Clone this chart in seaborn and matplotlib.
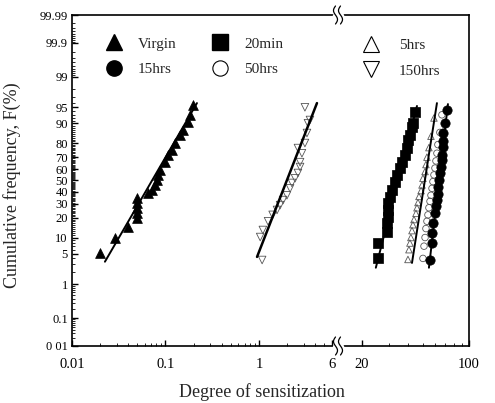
import math
import numpy as np
import matplotlib
matplotlib.use("Agg")
import matplotlib.pyplot as plt
import seaborn as sns
from matplotlib.lines import Line2D
from matplotlib.ticker import FixedLocator, NullFormatter

# ---------------- data ----------------
virgin_x = [0.0199, 0.0288, 0.0397, 0.0496, 0.0496, 0.0496, 0.0496, 0.0496, 0.0650,
            0.0717, 0.0772, 0.0811, 0.0832, 0.0873, 0.0988, 0.106, 0.117, 0.126,
            0.143, 0.154, 0.174, 0.183, 0.197]
virgin_F = [5.2, 9.8, 14.8, 20.0, 23.3, 26.8, 30.6, 34.7, 38.9, 41.6, 46.0, 50.4,
            54.9, 59.3, 66.1, 71.7, 75.3, 80.0, 84.7, 87.2, 90.6, 92.9, 95.5]

hrs150_x = [1.08, 1.03, 1.10, 1.25, 1.40, 1.56, 1.68, 1.81, 1.99, 2.15, 2.25, 2.43,
            2.61, 2.75, 2.75, 2.88, 2.61, 3.10, 3.26, 3.34, 3.51, 3.10]
hrs150_F = [3.7, 10.2, 13.3, 18.0, 22.0, 25.4, 29.0, 33.0, 37.0, 43.0, 47.8, 52.0,
            56.7, 61.9, 66.0, 73.0, 76.7, 80.0, 85.7, 90.1, 91.3, 95.0]

min20_x = [25.5, 25.5, 29.2, 29.2, 29.6, 29.6, 29.6, 30.5, 31.5, 32.9, 33.9, 35.5,
           36.6, 38.3, 39.4, 40.0, 41.2, 42.5, 43.2, 44.5]
min20_F = [4.1, 8.0, 12.4, 17.0, 20.6, 25.4, 30.6, 35.5, 41.6, 48.7, 54.9, 61.1,
           66.1, 71.7, 76.7, 81.9, 84.7, 88.5, 90.2, 93.8]

hrs5_x = [40.0, 40.6, 41.2, 41.8, 42.5, 43.1, 43.8, 45.1, 45.8, 46.5, 47.2, 48.7,
          49.4, 50.1, 51.7, 52.4, 53.2, 54.8, 56.5, 59.1]
hrs5_F = [3.8, 6, 8, 10, 13, 16, 19, 23, 27, 31, 36, 41, 46, 52, 58, 64, 70, 77, 84, 92]

hrs50_x = [50.1, 50.9, 51.7, 52.4, 53.2, 54.0, 54.8, 55.7, 56.5, 57.4, 58.2, 59.1,
           60.0, 60.9, 61.8, 62.7, 64.6, 66.6]
hrs50_F = [4, 7, 10, 14, 18, 22, 27, 32, 37, 43, 49, 55, 61, 67, 73, 79, 86, 93]

hrs15_x = [55.7, 57.4, 57.4, 58.2, 60.0, 60.9, 61.8, 62.7, 62.7, 63.7, 64.6, 65.6,
           66.6, 66.6, 67.6, 67.6, 67.6, 69.7, 71.8]
hrs15_F = [3.7, 8.0, 11.9, 17.0, 23.3, 28.0, 33.0, 38.0, 44.2, 50.0, 56.7, 62.0,
           67.8, 72.0, 77.4, 81.0, 85.7, 90.2, 94.3]

# fitted lines (end points)
fit_virgin_x, fit_virgin_F = [0.0225, 0.217], [3.4, 95.9]
fit_150_x, fit_150_F = [0.953, 4.17], [4.3, 95.9]
fit_20min_x, fit_20min_F = [24.7, 45.8], [2.5, 95.3]
fit_5_x, fit_5_F = [42.5, 61.8], [3.2, 95.9]
fit_15_x, fit_15_F = [54.8, 72.9], [2.5, 95.7]

y_ticks = [0.01, 0.1, 1, 5, 10, 20, 30, 40, 50, 60, 70, 80, 90, 95, 99, 99.9, 99.99]
y_labels = ["0 01", "0.1", "1", "5", "10", "20", "30", "40", "50", "60", "70", "80",
            "90", "95", "99", "99.9", "99.99"]
left_xticks, left_xlabels = [0.01, 0.1, 1, 6], ["0.01", "0.1", "1", "6"]
right_xticks, right_xlabels = [20, 100], ["20", "100"]

# ---------------- normal probability scale ----------------
_a = [-3.969683028665376e+01, 2.209460984245205e+02, -2.759285104469687e+02,
      1.383577518672690e+02, -3.066479806614716e+01, 2.506628277459239e+00]
_b = [-5.447609879822406e+01, 1.615858368580409e+02, -1.556989798598866e+02,
      6.680131188771972e+01, -1.328068155288572e+01]
_c = [-7.784894002430293e-03, -3.223964580411365e-01, -2.400758277161838e+00,
      -2.549671010229297e+00, 4.374664141464968e+00, 2.938163982698783e+00]
_d = [7.784695709041462e-03, 3.224671290700398e-01, 2.445134137142996e+00,
      3.754408661907416e+00]


def _ppf(p):
    p = np.clip(np.asarray(p, dtype=float), 1e-12, 1 - 1e-12)
    out = np.empty_like(p)
    plow, phigh = 0.02425, 1 - 0.02425
    lo = p < plow
    hi = p > phigh
    mid = ~(lo | hi)
    q = np.sqrt(-2 * np.log(p[lo]))
    out[lo] = (((((_c[0]*q+_c[1])*q+_c[2])*q+_c[3])*q+_c[4])*q+_c[5]) / \
              ((((_d[0]*q+_d[1])*q+_d[2])*q+_d[3])*q+1)
    q = np.sqrt(-2 * np.log(1 - p[hi]))
    out[hi] = -(((((_c[0]*q+_c[1])*q+_c[2])*q+_c[3])*q+_c[4])*q+_c[5]) / \
               ((((_d[0]*q+_d[1])*q+_d[2])*q+_d[3])*q+1)
    q = p[mid] - 0.5
    r = q * q
    out[mid] = (((((_a[0]*r+_a[1])*r+_a[2])*r+_a[3])*r+_a[4])*r+_a[5])*q / \
               (((((_b[0]*r+_b[1])*r+_b[2])*r+_b[3])*r+_b[4])*r+1)
    return out


_erfc = np.vectorize(math.erfc)


def fwd(F):
    return _ppf(np.asarray(F, dtype=float) / 100.0)


def inv(z):
    z = np.asarray(z, dtype=float)
    return 50.0 * _erfc(-z / math.sqrt(2))


# ---------------- figure ----------------
sns.set_theme(style="ticks")
plt.rcParams["font.family"] = ["Liberation Serif", "DejaVu Serif"]
plt.rcParams["axes.linewidth"] = 1.2

W, H = 495, 403
fig = plt.figure(figsize=(W / 100, H / 100), dpi=100)
x0, xb, x1 = 72, 338, 469
ytop, ybot = 15, 346
ax1 = fig.add_axes([x0 / W, 1 - ybot / H, (xb - x0) / W, (ybot - ytop) / H])
ax2 = fig.add_axes([xb / W, 1 - ybot / H, (x1 - xb) / W, (ybot - ytop) / H])

for ax in (ax1, ax2):
    ax.set_facecolor("white")
    ax.set_xscale("log")
    ax.set_yscale("function", functions=(fwd, inv))

filled = dict(color="black", edgecolor="black", linewidth=0.5, legend=False)
opened = dict(facecolor="none", edgecolor="#555555", linewidth=0.6, legend=False)

sns.scatterplot(x=virgin_x, y=virgin_F, marker="^", s=50, ax=ax1, **filled)
sns.scatterplot(x=hrs150_x, y=hrs150_F, marker="v", s=30, ax=ax1, **opened)
sns.lineplot(x=fit_virgin_x, y=fit_virgin_F, color="black", lw=1.4, ax=ax1,
             estimator=None, sort=False)
sns.lineplot(x=fit_150_x, y=fit_150_F, color="black", lw=1.8, ax=ax1,
             estimator=None, sort=False)

sns.scatterplot(x=hrs5_x, y=hrs5_F, marker="^", s=22, ax=ax2, **opened)
sns.scatterplot(x=hrs50_x, y=hrs50_F, marker="o", s=22, ax=ax2, **opened)
sns.scatterplot(x=min20_x, y=min20_F, marker="s", s=45, ax=ax2, **filled)
sns.scatterplot(x=hrs15_x, y=hrs15_F, marker="o", s=45, ax=ax2, **filled)
for fx, fF in ((fit_20min_x, fit_20min_F), (fit_5_x, fit_5_F), (fit_15_x, fit_15_F)):
    sns.lineplot(x=fx, y=fF, color="black", lw=1.4, ax=ax2, estimator=None, sort=False)

ymin_minor = np.concatenate([np.arange(0.02, 0.1, 0.01), np.arange(0.2, 1.0, 0.1),
                             np.arange(1, 100, 1), np.arange(99.1, 99.9, 0.1),
                             np.arange(99.91, 99.99, 0.01)])

ax1.set_xlim(0.01, 7)
ax2.set_xlim(14, 100)
for ax in (ax1, ax2):
    ax.set_ylim(0.01, 99.99)
    ax.set_xlabel("")
    ax.set_ylabel("")

ax1.yaxis.set_major_locator(FixedLocator(y_ticks))
ax1.set_yticklabels(y_labels)
ax1.yaxis.set_minor_locator(FixedLocator(ymin_minor))
ax1.yaxis.set_minor_formatter(NullFormatter())
ax1.set_xticks(left_xticks)
ax1.set_xticklabels(left_xlabels)
ax1.xaxis.set_minor_locator(FixedLocator(
    list(np.arange(0.02, 0.1, 0.01)) + list(np.arange(0.2, 1.0, 0.1)) + [2, 3, 4, 5]))
ax1.xaxis.set_minor_formatter(NullFormatter())

ax2.set_xticks(right_xticks)
ax2.set_xticklabels(right_xlabels)
ax2.xaxis.set_minor_locator(FixedLocator([30, 40, 50, 60, 70, 80, 90]))
ax2.xaxis.set_minor_formatter(NullFormatter())
ax2.set_yticks([])
ax2.yaxis.set_minor_locator(FixedLocator([]))

for ax in (ax1, ax2):
    ax.tick_params(axis="x", which="major", direction="in", length=4, width=1,
                   labelsize=10.5, colors="black", pad=9)
    ax.tick_params(axis="y", which="major", direction="in", length=4, width=1,
                   labelsize=9, colors="black", pad=3)
    ax.tick_params(axis="both", which="minor", direction="in", length=2, width=0.7)
    ax.tick_params(top=False, right=False, which="both")
    for s in ax.spines.values():
        s.set_color("black")

ax1.spines["right"].set_visible(False)
ax2.spines["left"].set_visible(False)

# legends
lw_leg = dict(linestyle="none", markersize=11)
h_left = [Line2D([], [], marker="^", color="black", **lw_leg),
          Line2D([], [], marker="o", color="black", **lw_leg),
          Line2D([], [], marker="s", color="black", **lw_leg),
          Line2D([], [], marker="o", mfc="white", mec="black", mew=0.8, **lw_leg)]
leg1 = ax1.legend(h_left, ["Virgin", "15hrs", "20min", "50hrs"], ncol=2,
                  frameon=False, loc="upper left", bbox_to_anchor=(0.07, 0.975),
                  fontsize=11, handletextpad=1.0, columnspacing=2.2,
                  labelspacing=0.75, handlelength=1.2)
h_right = [Line2D([], [], marker="^", mfc="white", mec="black", mew=0.8, **lw_leg),
           Line2D([], [], marker="v", mfc="white", mec="black", mew=0.8, **lw_leg)]
leg2 = ax2.legend(h_right, ["5hrs", "150hrs"], frameon=False, loc="upper left",
                  bbox_to_anchor=(0.08, 0.97), fontsize=11, handletextpad=1.2,
                  labelspacing=0.75, handlelength=1.2)

# axis break marks on top and bottom spines
for ypx in (ytop, ybot):
    fig.add_artist(Line2D([(xb - 4) / W, (xb + 4) / W], [1 - ypx / H] * 2,
                          color="white", lw=2.5, transform=fig.transFigure))
    t = np.linspace(-1, 1, 30)
    for dx in (-2.5, 2.5):
        xs = (xb + dx + 2.0 * np.sin(np.pi * t)) / W
        ys = 1 - (ypx + 9 * t) / H
        fig.add_artist(Line2D(xs, ys, color="black", lw=0.9, transform=fig.transFigure))

fig.text(262 / W, 1 - 392 / H, "Degree of sensitization", ha="center", va="center",
         fontsize=13)
fig.text(12 / W, 1 - 185 / H, "Cumulative frequency, F(%)", ha="center",
         va="center", rotation=90, fontsize=13)

fig.savefig("out.png", dpi=100, facecolor="white")
